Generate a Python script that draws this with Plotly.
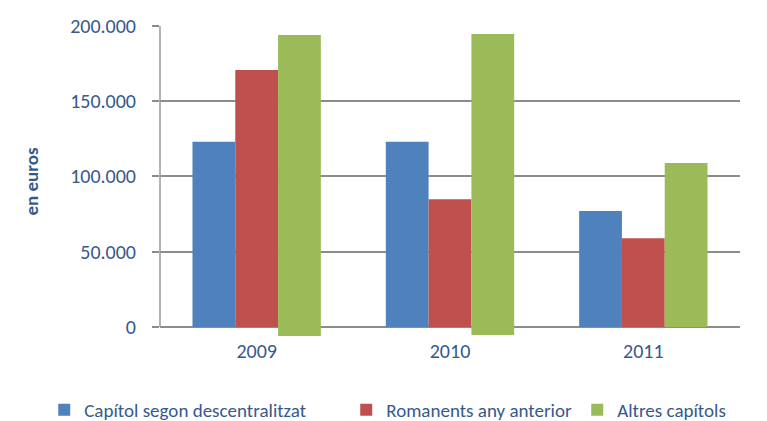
import plotly.graph_objects as go

years = ["2009", "2010", "2011"]
capitol_segon = [123000, 123000, 77000]
romanents = [170700, 84900, 59000]
altres_top = [194000, 194700, 108900]
altres_bottom = [-6000, -5300, 0]
series_names = ["Capítol segon descentralitzat", "Romanents any anterior", "Altres capítols"]
colors = ["#4F81BD", "#C0504D", "#9BBB59"]
tick_vals = [0, 50000, 100000, 150000, 200000]

FONT = "Calibri, Carlito, Lato, sans-serif"
TXT = "#36598C"

fig = go.Figure()
fig.add_trace(go.Bar(name=series_names[0], x=years, y=capitol_segon, marker_color=colors[0],
                     legendwidth=257))
fig.add_trace(go.Bar(name=series_names[1], x=years, y=romanents, marker_color=colors[1],
                     legendwidth=186))
fig.add_trace(go.Bar(name=series_names[2], x=years,
                     y=[t - b for t, b in zip(altres_top, altres_bottom)],
                     base=altres_bottom, marker_color=colors[2]))
for tr in fig.data:
    tr.marker.line.width = 0

# vertical axis line from 0 to max
fig.add_shape(type="line", xref="paper", yref="y", x0=0, x1=0, y0=0, y1=tick_vals[-1],
              line=dict(color="#9A9A9A", width=1.5))

fig.add_annotation(text="<b>en euros</b>", xref="paper", yref="paper",
                   x=-0.244, y=0.503, textangle=-90, showarrow=False,
                   font=dict(family=FONT, size=19, color=TXT))

fig.update_layout(
    width=767, height=421,
    margin=dict(l=160, r=27, t=26, b=84, autoexpand=False),
    paper_bgcolor="white", plot_bgcolor="white",
    barmode="group", bargap=0.336, bargroupgap=0,
    separators=",.",
    showlegend=True,
    legend=dict(orientation="h", xref="paper", yref="paper",
                x=-0.1996, xanchor="left", y=-0.2347, yanchor="middle",
                font=dict(family=FONT, size=19, color=TXT), traceorder="normal"),
    xaxis=dict(showgrid=False, showline=False, ticks="",
               tickfont=dict(family=FONT, size=20, color=TXT)),
    yaxis=dict(range=[-6700, 200000], tickvals=tick_vals, tickformat=",d",
               showgrid=True, gridcolor="#8C8C8C", gridwidth=1.5,
               zeroline=True, zerolinecolor="#8C8C8C", zerolinewidth=1.5,
               showline=False, ticks="outside", ticklen=7, tickcolor="#8C8C8C", tickwidth=1.5,
               ticklabelstandoff=12,
               tickfont=dict(family=FONT, size=20, color=TXT)),
)

fig.write_html("out.html", config={"displayModeBar": False},
               post_script="document.body.style.margin='0';document.body.style.overflow='hidden';")
